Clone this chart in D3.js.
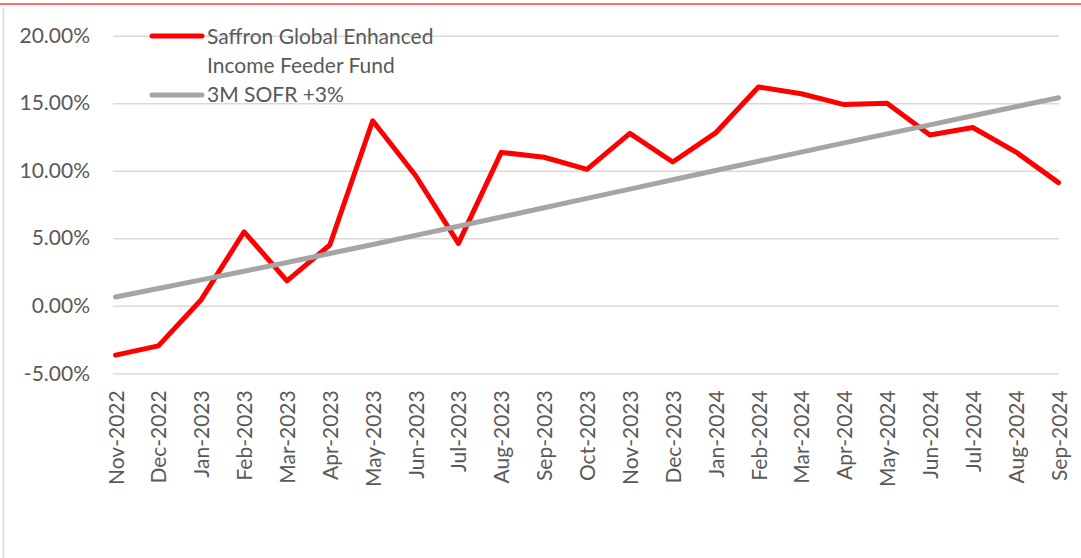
<!DOCTYPE html>
<html><head><meta charset="utf-8">
<script src="https://cdn.jsdelivr.net/npm/d3@7"></script>
<style>
body{margin:0;background:#fff;overflow:hidden;}
text{font-family:Lato, "Open Sans", sans-serif;fill:#595959;}
</style>
</head><body>
<svg id="chart" width="1081" height="558"></svg>
<script>
const categories = ["Nov-2022","Dec-2022","Jan-2023","Feb-2023","Mar-2023","Apr-2023","May-2023","Jun-2023","Jul-2023","Aug-2023","Sep-2023","Oct-2023","Nov-2023","Dec-2023","Jan-2024","Feb-2024","Mar-2024","Apr-2024","May-2024","Jun-2024","Jul-2024","Aug-2024","Sep-2024"];
const fundValues = [-3.65,-2.97,0.45,5.48,1.85,4.5,13.7,9.65,4.62,11.36,11.0,10.1,12.77,10.65,12.8,16.2,15.7,14.9,15.0,12.65,13.2,11.4,9.12];
const benchmarkValues = [0.65,1.28,1.92,2.56,3.21,3.87,4.54,5.21,5.89,6.57,7.26,7.95,8.64,9.33,10.02,10.7,11.38,12.06,12.73,13.4,14.07,14.74,15.4];
const yTicks = [-5,0,5,10,15,20];
const seriesNames = ["Saffron Global Enhanced", "Income Feeder Fund", "3M SOFR +3%"];
const colors = {fund:"#ff0000", bench:"#a5a5a5", grid:"#d9d9d9"};
const fontSize = "21px";

const svg = d3.select("#chart");
const plotLeft = 113, plotRight = 1059;

// decoration: top red rule and left frame border
svg.append("line").attr("x1",0).attr("x2",1081).attr("y1",4).attr("y2",4)
  .attr("stroke","#ee4444").attr("stroke-width",1.5);
svg.append("line").attr("x1",3.5).attr("x2",3.5).attr("y1",8).attr("y2",558)
  .attr("stroke",colors.grid).attr("stroke-width",1.5);

const x = d3.scalePoint().domain(categories).range([115.5, 1058.5]);
const y = d3.scaleLinear().domain([-5,20]).range([373.3, 35.7]);

// y axis + gridlines
const yAxis = svg.append("g").attr("transform",`translate(${plotLeft},0)`)
  .call(d3.axisLeft(y).tickValues(yTicks).tickSize(-(plotRight-plotLeft)).tickPadding(23)
    .tickFormat(d => d.toFixed(2) + "%"));
yAxis.select(".domain").remove();
yAxis.selectAll(".tick line").attr("stroke",colors.grid).attr("stroke-width",1.5);
yAxis.selectAll(".tick text").style("font-size",fontSize).attr("fill","#595959");

// x axis labels
const xAxis = svg.append("g").attr("transform",`translate(0,${y(-5)})`)
  .call(d3.axisBottom(x).tickSize(0));
xAxis.select(".domain").remove();
xAxis.selectAll(".tick text")
  .style("font-size",fontSize).attr("fill","#595959")
  .attr("text-anchor","end")
  .attr("transform","rotate(-90)")
  .attr("x",-17).attr("y",0).attr("dy","0.36em");

const line = d3.line().x((d,i)=>x(categories[i])).y(d=>y(d));

svg.append("path").datum(fundValues).attr("d",line)
  .attr("fill","none").attr("stroke",colors.fund).attr("stroke-width",5)
  .attr("stroke-linejoin","round").attr("stroke-linecap","round");
svg.append("path").datum(benchmarkValues).attr("d",line)
  .attr("fill","none").attr("stroke",colors.bench).attr("stroke-width",5)
  .attr("stroke-linejoin","round").attr("stroke-linecap","round");

// legend
const lg = svg.append("g");
lg.append("line").attr("x1",152).attr("x2",202).attr("y1",36).attr("y2",36)
  .attr("stroke",colors.fund).attr("stroke-width",5).attr("stroke-linecap","round");
lg.append("text").attr("x",207).attr("y",44).style("font-size",fontSize).text(seriesNames[0]);
lg.append("text").attr("x",207).attr("y",73).style("font-size",fontSize).text(seriesNames[1]);
lg.append("line").attr("x1",152).attr("x2",202).attr("y1",95).attr("y2",95)
  .attr("stroke",colors.bench).attr("stroke-width",5).attr("stroke-linecap","round");
lg.append("text").attr("x",207).attr("y",102).style("font-size",fontSize).text(seriesNames[2]);
</script>
</body></html>
